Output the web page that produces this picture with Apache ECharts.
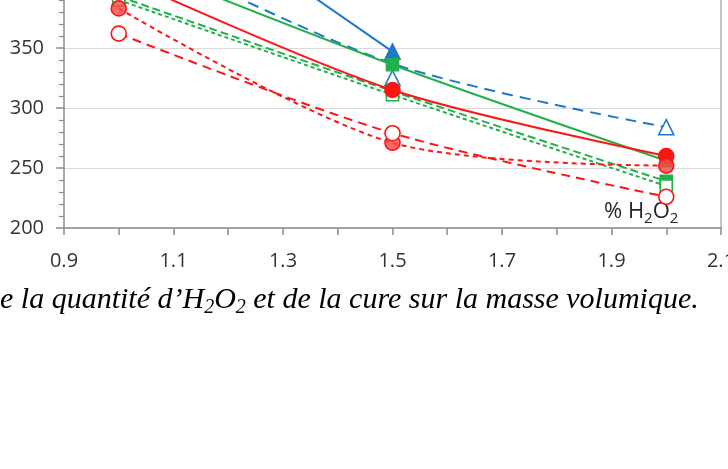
<!DOCTYPE html>
<html>
<head>
<meta charset="utf-8">
<script src="https://cdn.jsdelivr.net/npm/echarts@6/dist/echarts.min.js"></script>
<style>
    html, body { margin: 0; padding: 0; background: #fff; }
    #chart { width: 728px; height: 469px; }
</style>
</head>
<body>
<div id="chart"></div>
<script>
    // % H2O2 (axe x)
    var doses = [1.0, 1.5, 2.0];

    // masse volumique - série bleue
    var bleuPlein = [505, 347, null];
    var bleuVideTrend = [440, 337, 284];
    var bleuVidePts = [null, 325, 284];
    // série verte
    var vertPlein = [425, 336, 256];
    var vertTiretA = [393, 314, 239];
    var vertTiretB = [390, 311, 235];
    // série rouge
    var rougePlein = [410, 315, 260];
    var rougeTiretA = [383, 271, 252];
    var rougeTiretB = [362, 279, 226];

    var yTicks = [200, 250, 300, 350, 400];

    var BLEU = '#1f77c9', VERT = '#21b04b', ROUGE = '#ff1414';
    var AXE = '#8c8c8c';

    function paires(arr) {
        var out = [];
        for (var i = 0; i < doses.length; i++) {
            if (arr[i] !== null) out.push([doses[i], arr[i]]);
        }
        return out;
    }

    function serie(arr, color, symbol, size, fill, dash, showLine) {
        return {
            type: 'line',
            data: paires(arr),
            smooth: 0.3,
            symbol: symbol,
            symbolSize: size,
            showSymbol: symbol !== 'none',
            lineStyle: {
                color: color,
                width: showLine ? 2 : 0,
                type: dash || 'solid',
                opacity: showLine ? 1 : 0
            },
            itemStyle: {
                color: fill,
                borderColor: color,
                borderWidth: 1.6
            },
            emphasis: { disabled: true },
            silent: true,
            animation: false
        };
    }

    var chart = echarts.init(document.getElementById('chart'));

    var option = {
        animation: false,
        grid: { left: 64, right: 7, top: -12, bottom: 241, containLabel: false, outerBoundsMode: 'none' },
        xAxis: {
            type: 'value',
            min: 0.9,
            max: 2.1,
            interval: 0.1,
            axisLine: { lineStyle: { color: AXE, width: 1.5 } },
            axisTick: { length: 7, lineStyle: { color: AXE, width: 1.5 } },
            splitLine: { show: false },
            axisLabel: {
                margin: 23,
                color: '#333',
                fontSize: 20,
                fontFamily: 'Open Sans',
                formatter: function (v) {
                    var k = Math.round(v * 10);
                    return k % 2 === 1 ? (k / 10).toFixed(1) : '';
                }
            }
        },
        yAxis: [{
            type: 'value',
            min: 200,
            max: 400,
            interval: 50,
            axisLine: { show: true, lineStyle: { color: AXE, width: 1.5 } },
            axisTick: { show: true, length: 8, lineStyle: { color: AXE, width: 1.5 } },
            minorTick: { show: true, splitNumber: 5, length: 5, lineStyle: { color: AXE, width: 1.2 } },
            splitLine: { lineStyle: { color: '#d9d9d9', width: 1 } },
            axisLabel: {
                margin: 20,
                color: '#333',
                fontSize: 20,
                fontFamily: 'Open Sans',
                formatter: function (v) {
                    return yTicks.indexOf(v) >= 0 ? String(v) : '';
                }
            }
        }, {
            type: 'value',
            position: 'right',
            min: 200,
            max: 400,
            axisLine: { show: true, lineStyle: { color: '#b0b0b0', width: 1.5 } },
            axisTick: { show: false },
            axisLabel: { show: false },
            splitLine: { show: false }
        }],
        graphic: [{
            type: 'text',
            left: 604,
            top: 198,
            silent: true,
            style: {
                text: '% H{s|2}O{s|2}',
                fill: '#262626',
                fontSize: 22,
                fontFamily: 'Open Sans',
                lineHeight: 28,
                rich: {
                    s: { fontSize: 15, fontFamily: 'Open Sans', fill: '#262626', verticalAlign: 'bottom', lineHeight: 28 }
                }
            }
        }, {
            type: 'text',
            left: 0,
            top: 282,
            silent: true,
            style: {
                text: 'e la quantité d’H{s|2}O{s|2} et de la cure sur la masse volumique.',
                fill: '#000',
                fontSize: 30,
                fontStyle: 'italic',
                fontFamily: 'Liberation Serif',
                lineHeight: 36,
                rich: {
                    s: { fontSize: 20, fontStyle: 'italic', fontFamily: 'Liberation Serif', fill: '#000', verticalAlign: 'bottom', lineHeight: 36 }
                }
            }
        }],
        series: [
            serie(bleuPlein, BLEU, 'triangle', 15, BLEU, 'solid', true),
            serie(bleuVideTrend, BLEU, 'none', 0, '#fff', [11, 7], true),
            serie(bleuVidePts, BLEU, 'triangle', 15, '#fff', 'solid', false),
            serie(vertPlein, VERT, 'rect', 12, VERT, 'solid', true),
            serie(vertTiretA, VERT, 'rect', 12, VERT, [8, 4], true),
            serie(vertTiretB, VERT, 'rect', 12, '#fff', [4, 3], true),
            serie(rougePlein, ROUGE, 'circle', 15, ROUGE, 'solid', true),
            serie(rougeTiretA, ROUGE, 'circle', 15, 'rgba(255,70,70,0.8)', [5, 4], true),
            serie(rougeTiretB, ROUGE, 'circle', 15, '#fff', [9, 6], true)
        ]
    };

    chart.setOption(option);
</script>
</body>
</html>
